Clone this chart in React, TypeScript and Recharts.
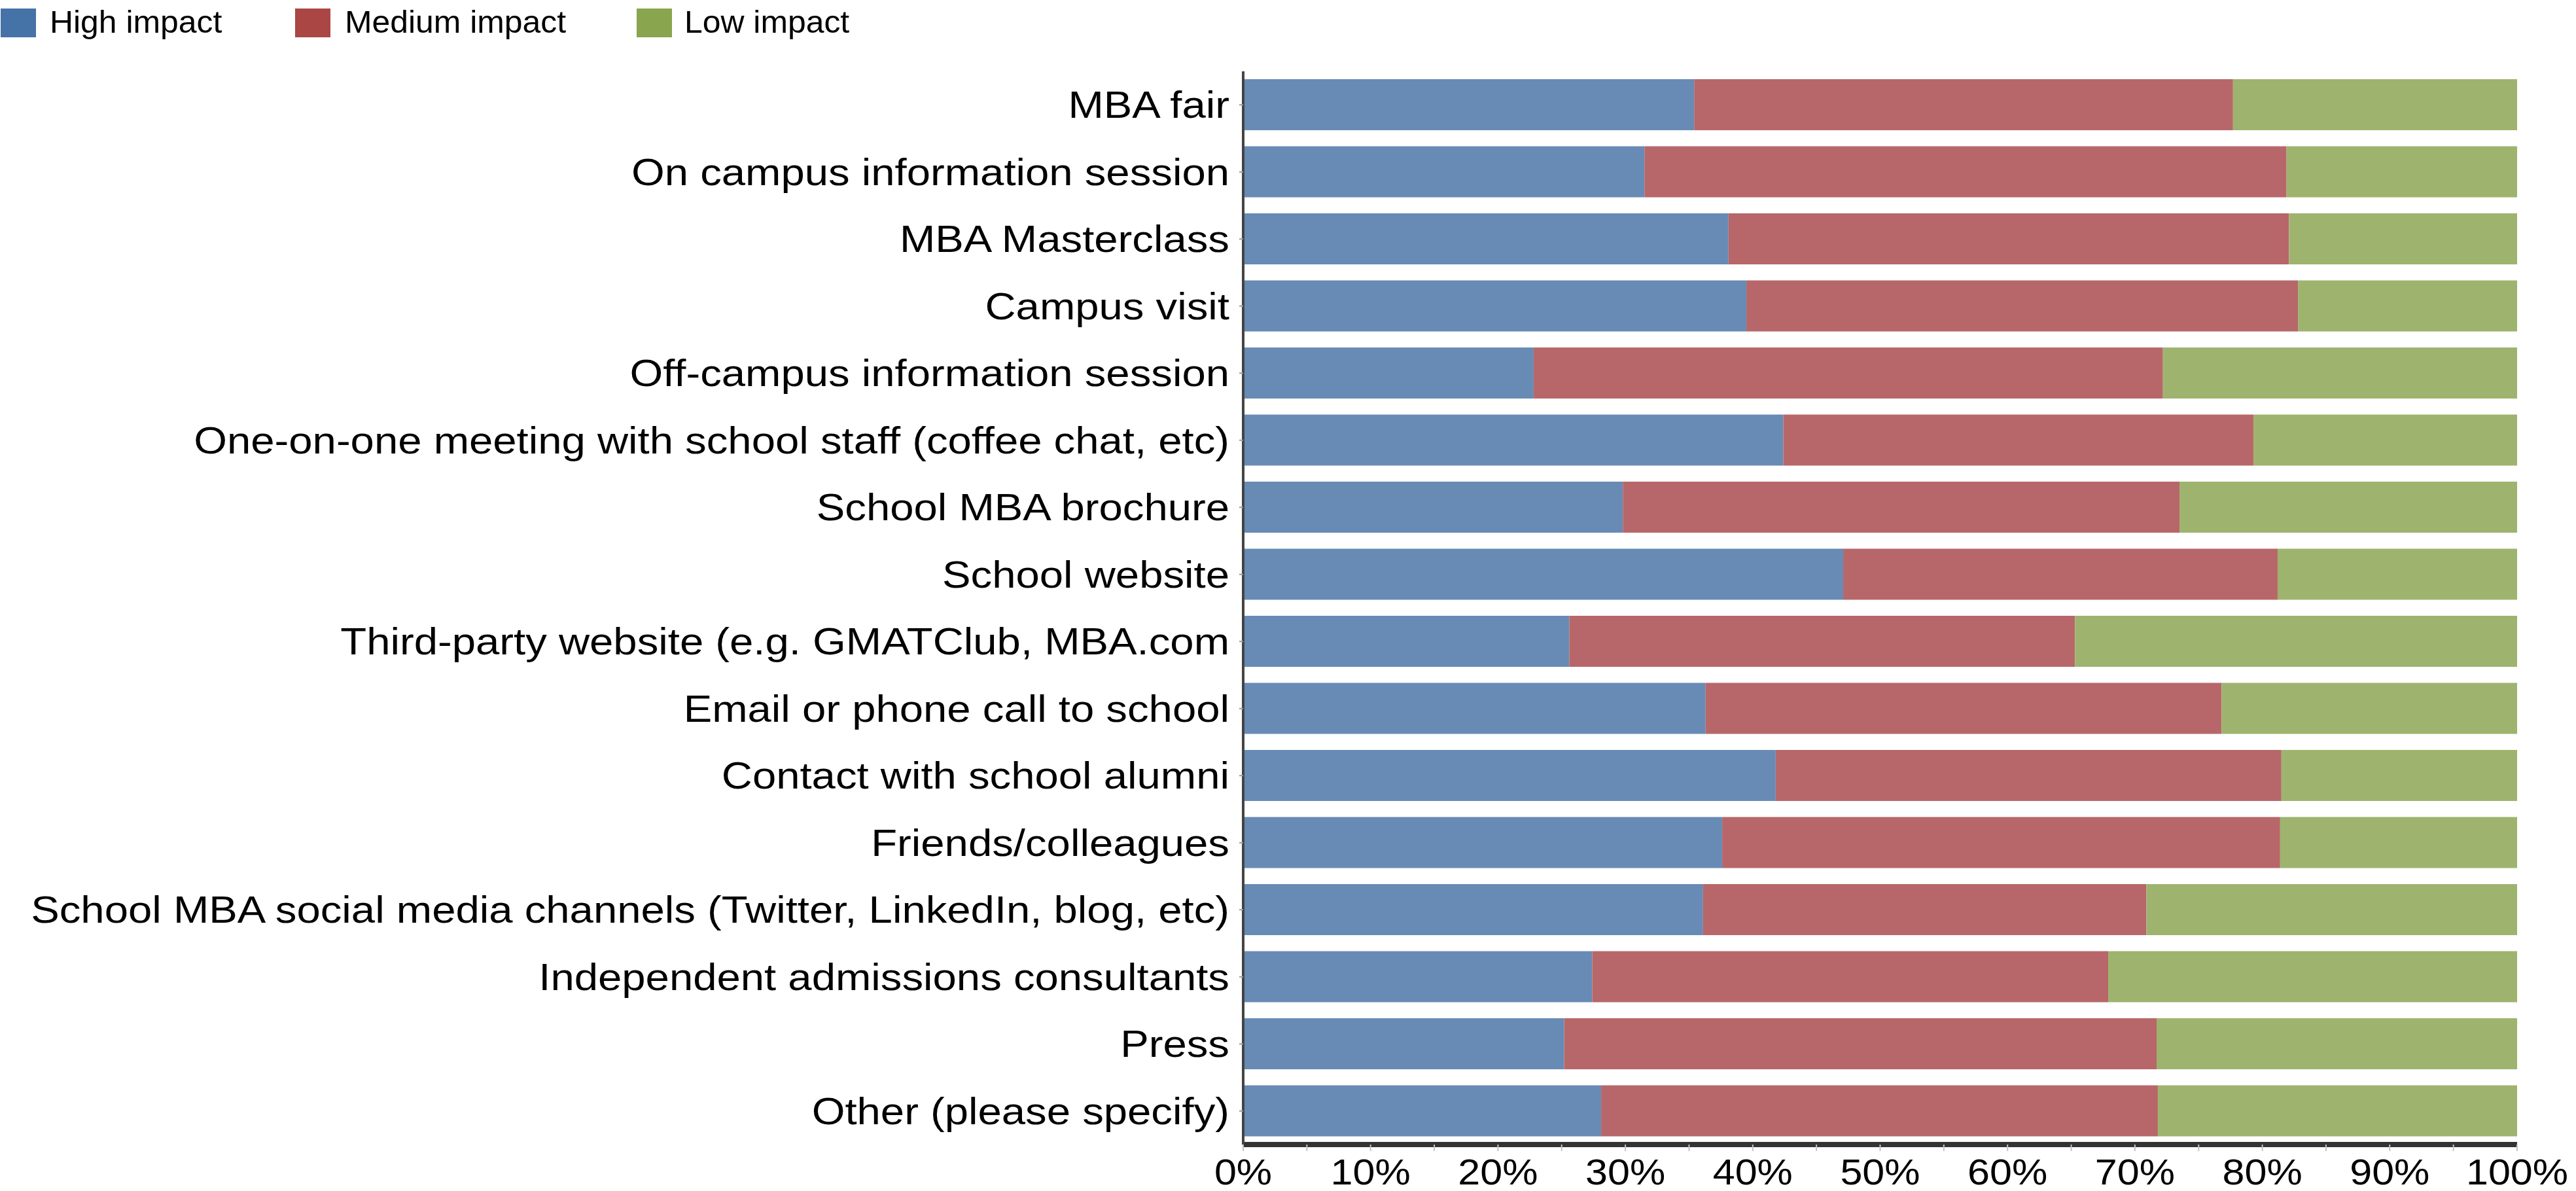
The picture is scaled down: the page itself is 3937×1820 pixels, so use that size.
import React from "react";
import { BarChart, Bar, XAxis, YAxis, Legend } from "recharts";

const categories = [
  "MBA fair",
  "On campus information session",
  "MBA Masterclass",
  "Campus visit",
  "Off-campus information session",
  "One-on-one meeting with school staff (coffee chat, etc)",
  "School MBA brochure",
  "School website",
  "Third-party website (e.g. GMATClub, MBA.com",
  "Email or phone call to school",
  "Contact with school alumni",
  "Friends/colleagues",
  "School MBA social media channels (Twitter, LinkedIn, blog, etc)",
  "Independent admissions consultants",
  "Press",
  "Other (please specify)",
];

const highImpact = [35.4, 31.5, 38.1, 39.5, 22.8, 42.4, 29.8, 47.1, 25.6, 36.3, 41.8, 37.6, 36.1, 27.4, 25.2, 28.1];
const mediumImpact = [42.3, 50.4, 44.0, 43.3, 49.4, 36.9, 43.7, 34.1, 39.7, 40.5, 39.7, 43.8, 34.8, 40.5, 46.5, 43.7];
const lowImpact = [22.3, 18.1, 17.9, 17.2, 27.8, 20.7, 26.5, 18.8, 34.7, 23.2, 18.5, 18.6, 29.1, 32.1, 28.3, 28.2];

const xTicks = [0, 5, 10, 15, 20, 25, 30, 35, 40, 45, 50, 55, 60, 65, 70, 75, 80, 85, 90, 95, 100];

const seriesNames = ["High impact", "Medium impact", "Low impact"];
const barColors = ["#688BB5", "#B76769", "#9EB46E"];
const legendColors = ["#4572A7", "#AA4643", "#89A54E"];

const data = categories.map((name, i) => ({
  name,
  high: highImpact[i],
  medium: mediumImpact[i],
  low: lowImpact[i],
}));

const FONT = "'Liberation Sans', Arial, Helvetica, sans-serif";

const YTick = (props: any) => {
  const { x, y, payload } = props;
  return (
    <g transform={`translate(${x},${y})`}>
      <text
        x={0}
        y={0}
        dy="0.355em"
        textAnchor="end"
        fontSize={57}
        fontFamily={FONT}
        fill="#000"
        transform="scale(1.145,1)"
      >
        {payload.value}
      </text>
    </g>
  );
};

const XTick = (props: any) => {
  const { x, y, payload } = props;
  if (payload.value % 10 !== 0) return <g />;
  return (
    <g transform={`translate(${x},${y})`}>
      <text
        x={0}
        y={0}
        dy="0.71em"
        textAnchor="middle"
        fontSize={56}
        fontFamily={FONT}
        fill="#000"
        transform="scale(1.09,1)"
      >
        {`${payload.value}%`}
      </text>
    </g>
  );
};

const legendSquareX = [1, 451, 973];
const legendTextX = [76, 527, 1046];

const LegendContent = () => (
  <svg width={1400} height={60} style={{ display: "block" }}>
    {seriesNames.map((n, i) => (
      <g key={n}>
        <rect x={legendSquareX[i]} y={13} width={54} height={44} fill={legendColors[i]} />
        <g transform={`translate(${legendTextX[i]},50)`}>
          <text x={0} y={0} fontSize={47.5} fontFamily={FONT} fill="#000" transform="scale(1.05,1)">
            {n}
          </text>
        </g>
      </g>
    ))}
  </svg>
);

export default function App() {
  return (
    <div style={{ position: "absolute", left: 0, top: 0, background: "#fff" }}>
      <BarChart
        layout="vertical"
        width={3937}
        height={1820}
        data={data}
        margin={{ top: 49, right: 90, bottom: 0, left: 0 }}
      >
        <Legend
          verticalAlign="top"
          align="left"
          content={<LegendContent />}
          wrapperStyle={{ top: 0, left: 0, width: 1400, height: 60 }}
        />
        <XAxis
          type="number"
          domain={[0, 100]}
          allowDataOverflow
          ticks={xTicks}
          interval={0}
          height={71}
          axisLine={{ stroke: "#333", strokeWidth: 8 }}
          tickLine={{ stroke: "#c4c4c4", strokeWidth: 2 }}
          tickSize={10}
          tickMargin={11}
          tick={<XTick />}
        />
        <YAxis
          type="category"
          dataKey="name"
          width={1900}
          interval={0}
          axisLine={{ stroke: "#444", strokeWidth: 4 }}
          tickLine={{ stroke: "#999", strokeWidth: 2 }}
          tickSize={6}
          tickMargin={15}
          tick={<YTick />}
        />
        <Bar dataKey="high" name={seriesNames[0]} stackId="a" fill={barColors[0]} barSize={78} isAnimationActive={false} />
        <Bar dataKey="medium" name={seriesNames[1]} stackId="a" fill={barColors[1]} barSize={78} isAnimationActive={false} />
        <Bar dataKey="low" name={seriesNames[2]} stackId="a" fill={barColors[2]} barSize={78} isAnimationActive={false} />
      </BarChart>
    </div>
  );
}
